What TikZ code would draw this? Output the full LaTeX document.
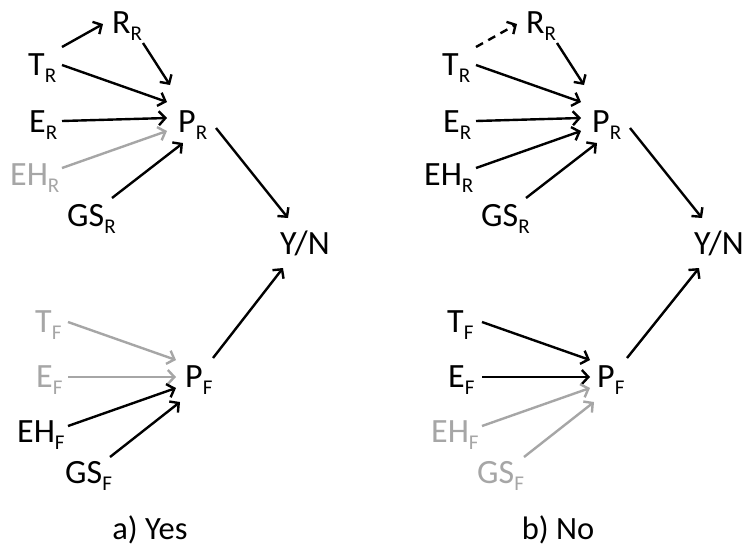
\documentclass[tikz,border=0pt]{standalone}
\usepackage{fontspec}
\setmainfont{Carlito}
\usetikzlibrary{arrows.meta}
\definecolor{gry}{RGB}{166,166,166}
\newcommand{\sbx}[2]{#1\raisebox{-7pt}{\fontsize{21}{21}\selectfont #2}}
\begin{document}
\begin{tikzpicture}[x=1pt,y=-1pt,
  lbl/.style={anchor=base west, inner sep=0pt, font=\fontsize{34}{38}\selectfont},
  captxt/.style={anchor=base, inner sep=0pt, font=\fontsize{32.5}{36}\selectfont},
  arr/.style={line width=2.4pt, -{Straight Barb[length=6.5pt,width=14pt]}},
  dsh/.style={dash pattern=on 8pt off 6pt}]
\useasboundingbox[fill=white] (0,0) rectangle (743,547);
% ---------- panel a ----------
\node[lbl] (aR) at (112,33) {\sbx{R}{R}};
\node[lbl] (aT) at (28,75) {\sbx{T}{R}};
\node[lbl] (aE) at (29,132) {\sbx{E}{R}};
\node[lbl,text=gry] (aEH) at (10,185) {\sbx{EH}{R}};
\node[lbl] (aGS) at (67,226) {\sbx{GS}{R}};
\node[lbl] (aP) at (178,132) {\sbx{P}{R}};
\node[lbl] (aY) at (280,254) {Y/N};
\node[lbl,text=gry] (aTF) at (35,332) {\sbx{T}{F}};
\node[lbl,text=gry] (aEF) at (36,387) {\sbx{E}{F}};
\node[lbl] (aEHF) at (17,442) {\sbx{EH}{F}};
\node[lbl] (aGSF) at (65,483) {\sbx{GS}{F}};
\node[lbl] (aPF) at (185,387) {\sbx{P}{F}};
\node[captxt] (aC) at (150,539) {a) Yes};
\draw[arr] ([shift={(34,-28)}]aT.base west) -- ([shift={(-9,-9)}]aR.base west);
\draw[arr] ([shift={(31,10)}]aR.base west) -- ([shift={(-8,-47)}]aP.base west);
\draw[arr] ([shift={(34,-10)}]aT.base west) -- ([shift={(-11,-30)}]aP.base west);
\draw[arr] ([shift={(33,-11)}]aE.base west) -- ([shift={(-11,-14)}]aP.base west);
\draw[arr,gry] ([shift={(52,-17)}]aEH.base west) -- ([shift={(-11,-1)}]aP.base west);
\draw[arr] ([shift={(45,-28)}]aGS.base west) -- ([shift={(5,11)}]aP.base west);
\draw[arr] ([shift={(38,-4)}]aP.base west) -- ([shift={(8,-36)}]aY.base west);
\draw[arr] ([shift={(28,-29)}]aPF.base west) -- ([shift={(3,14)}]aY.base west);
\draw[arr,gry] ([shift={(33,-10)}]aTF.base west) -- ([shift={(-9,-27)}]aPF.base west);
\draw[arr,gry] ([shift={(32,-10)}]aEF.base west) -- ([shift={(-9,-10)}]aPF.base west);
\draw[arr] ([shift={(51,-16)}]aEHF.base west) -- ([shift={(-9,1)}]aPF.base west);
\draw[arr] ([shift={(45,-26)}]aGSF.base west) -- ([shift={(-5,15)}]aPF.base west);
% ---------- panel b ----------
\begin{scope}[xshift=414pt]
\node[lbl] (bR) at (112,33) {\sbx{R}{R}};
\node[lbl] (bT) at (28,75) {\sbx{T}{R}};
\node[lbl] (bE) at (29,132) {\sbx{E}{R}};
\node[lbl] (bEH) at (10,185) {\sbx{EH}{R}};
\node[lbl] (bGS) at (67,226) {\sbx{GS}{R}};
\node[lbl] (bP) at (178,132) {\sbx{P}{R}};
\node[lbl] (bY) at (280,254) {Y/N};
\node[lbl] (bTF) at (33,332) {\sbx{T}{F}};
\node[lbl] (bEF) at (34,387) {\sbx{E}{F}};
\node[lbl,text=gry] (bEHF) at (17,442) {\sbx{EH}{F}};
\node[lbl,text=gry] (bGSF) at (63,483) {\sbx{GS}{F}};
\node[lbl] (bPF) at (183,387) {\sbx{P}{F}};
\node[captxt] (bC) at (144,539) {b) No};
\end{scope}
\draw[arr,dsh] ([shift={(34,-28)}]bT.base west) -- ([shift={(-9,-9)}]bR.base west);
\draw[arr] ([shift={(31,10)}]bR.base west) -- ([shift={(-8,-47)}]bP.base west);
\draw[arr] ([shift={(34,-10)}]bT.base west) -- ([shift={(-11,-30)}]bP.base west);
\draw[arr] ([shift={(33,-11)}]bE.base west) -- ([shift={(-11,-14)}]bP.base west);
\draw[arr] ([shift={(52,-17)}]bEH.base west) -- ([shift={(-11,-1)}]bP.base west);
\draw[arr] ([shift={(45,-28)}]bGS.base west) -- ([shift={(5,11)}]bP.base west);
\draw[arr] ([shift={(38,-4)}]bP.base west) -- ([shift={(8,-36)}]bY.base west);
\draw[arr] ([shift={(30,-29)}]bPF.base west) -- ([shift={(5,14)}]bY.base west);
\draw[arr] ([shift={(35,-10)}]bTF.base west) -- ([shift={(-7,-27)}]bPF.base west);
\draw[arr] ([shift={(34,-10)}]bEF.base west) -- ([shift={(-7,-10)}]bPF.base west);
\draw[arr,gry] ([shift={(51,-16)}]bEHF.base west) -- ([shift={(-7,1)}]bPF.base west);
\draw[arr,gry] ([shift={(47,-26)}]bGSF.base west) -- ([shift={(-3,15)}]bPF.base west);
\end{tikzpicture}
\end{document}
